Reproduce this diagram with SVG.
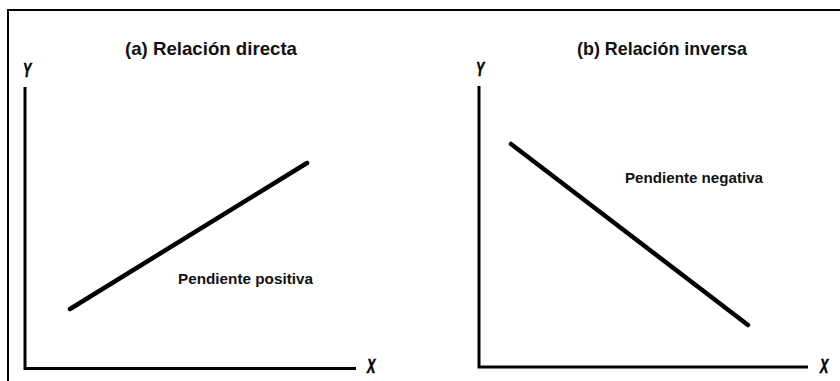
<svg xmlns="http://www.w3.org/2000/svg" width="840" height="381" viewBox="0 0 840 381">
<style>
.frame{fill:none;stroke:#000;stroke-width:2}
.axis{fill:none;stroke:#000;stroke-width:3;stroke-linecap:butt}
.curve{fill:none;stroke:#000;stroke-width:4.5;stroke-linecap:round}
.title{font-family:"Liberation Sans",Arial,sans-serif;font-weight:bold;font-size:18.5px;fill:#111}
.lbl{font-family:"Liberation Sans",Arial,sans-serif;font-weight:bold;font-size:15.5px;fill:#111}
.ax{font-family:"Liberation Sans",Arial,sans-serif;font-weight:bold;font-style:italic;font-size:20px;fill:#000;stroke:#000;stroke-width:0.6}
</style>
<rect width="840" height="381" fill="#fff"/>
<path class="frame" d="M8,390 V10 H850"/>
<g id="chart-a">
<g id="axes-a">
<path class="axis" d="M25,87 V368.5 H356"/>
</g>
<text class="ax" transform="translate(23,77) scale(0.62,1)">Y</text>
<text class="ax" transform="translate(367,373) scale(0.62,1)">X</text>
<text class="title" x="125" y="55" textLength="172" lengthAdjust="spacingAndGlyphs">(a) Relación directa</text>
<text class="lbl" x="178" y="284" textLength="135" lengthAdjust="spacingAndGlyphs">Pendiente positiva</text>
</g>
<g id="chart-b">
<g id="axes-b">
<path class="axis" d="M479,86 V367 H808"/>
</g>
<text class="ax" transform="translate(476,76) scale(0.62,1)">Y</text>
<text class="ax" transform="translate(820,373) scale(0.62,1)">X</text>
<text class="title" x="577" y="55" textLength="170" lengthAdjust="spacingAndGlyphs">(b) Relación inversa</text>
<text class="lbl" x="625" y="183" textLength="138" lengthAdjust="spacingAndGlyphs">Pendiente negativa</text>
</g>
<g id="connectors">
<line class="curve" x1="70" y1="309" x2="307" y2="163"/>
<line class="curve" x1="511" y1="144" x2="748" y2="325"/>
</g>
</svg>
